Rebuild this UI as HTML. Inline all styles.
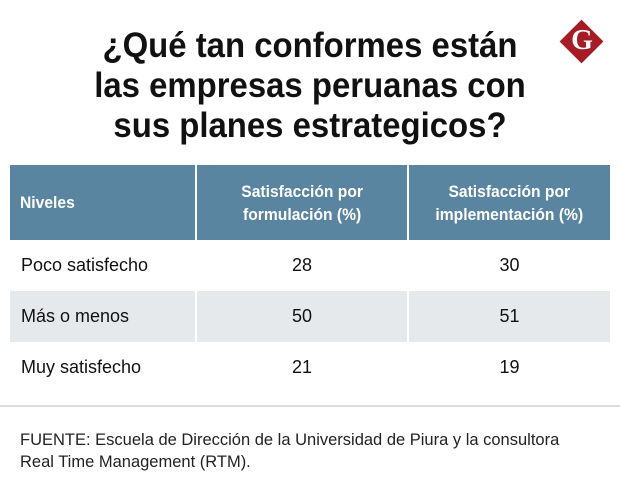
<!DOCTYPE html>
<html><head><meta charset="utf-8"><style>
body{margin:0;width:620px;height:503px;background:#fff;font-family:"Liberation Sans",sans-serif;position:relative;overflow:hidden;color:#111}
.t{position:absolute;left:0;width:620px;text-align:center;font-weight:bold;font-size:35px;line-height:40px;top:26px;color:#111;transform:scaleX(0.94);transform-origin:310px 0}
.logo{position:absolute;left:566px;top:26px;width:31px;height:31px;background:#a51c24;transform:rotate(45deg)}
.g{position:absolute;left:562px;top:25px;width:40px;text-align:center;font:bold 28px "Liberation Serif",serif;color:#fff}
.cell{position:absolute;box-sizing:border-box;display:flex;align-items:center;font-size:18px}
.h{background:#5a85a0;color:#fff;font-weight:bold;font-size:17px;line-height:23px}
.h span{display:inline-block;transform:scaleX(0.92)}
.gr{background:#e6e9ec}
.c{justify-content:center;text-align:center}
.src{position:absolute;left:20px;top:429px;font-family:"Liberation Sans",sans-serif;font-size:16.5px;line-height:22px;color:#222}
</style></head><body>
<div class="t">¿Qué tan conformes están<br>las empresas peruanas con<br>sus planes estrategicos?</div>
<div class="logo"></div><div class="g">G</div>
<div class="cell h" style="left:10px;top:165px;width:185px;height:75px;padding-left:10px"><span style="transform-origin:0 0">Niveles</span></div>
<div class="cell h c" style="left:197px;top:165px;width:210px;height:75px"><span>Satisfacción por<br>formulación (%)</span></div>
<div class="cell h c" style="left:409px;top:165px;width:201px;height:75px"><span>Satisfacción por<br>implementación (%)</span></div>
<div id="rows"></div>
<div style="position:absolute;left:0;top:405px;width:620px;height:2px;background:#ddd"></div>
<div class="src">FUENTE: Escuela de Dirección de la Universidad de Piura y la consultora<br>Real Time Management (RTM).</div>
<script>
const levels=["Poco satisfecho","Más o menos","Muy satisfecho"];
const formulacion=[28,50,21];
const implementacion=[30,51,19];
const root=document.getElementById('rows');
levels.forEach((l,i)=>{
  const top=240+i*51, g=i%2===1?' gr':'';
  const a=document.createElement('div');a.className='cell'+g;a.style.cssText=`left:10px;top:${top}px;width:185px;height:51px;padding-left:11px`;a.textContent=l;
  
  
  const b=document.createElement('div');b.className='cell c'+g;b.style.cssText=`left:197px;top:${top}px;width:210px;height:51px`;b.textContent=formulacion[i];
  
  
  const c=document.createElement('div');c.className='cell c'+g;c.style.cssText=`left:409px;top:${top}px;width:201px;height:51px`;c.textContent=implementacion[i];
  
  
  root.append(a,b,c);
});
</script>
</body></html>
